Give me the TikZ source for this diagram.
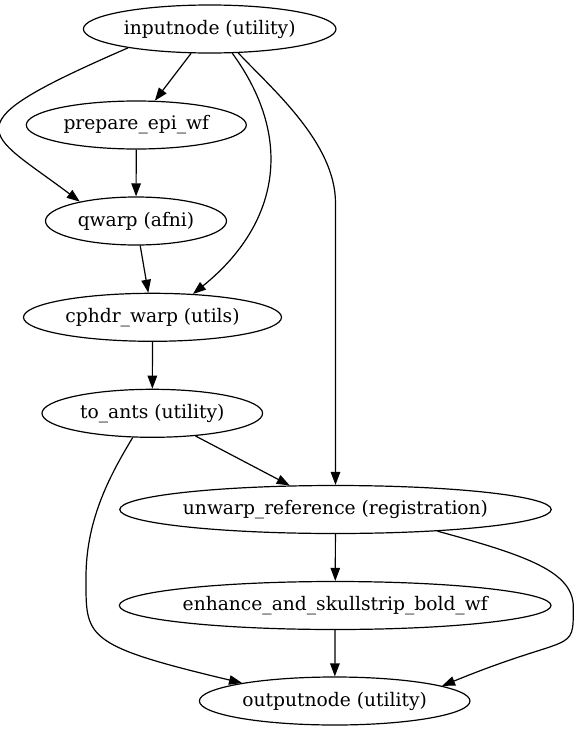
\documentclass[tikz,border=0pt]{standalone}
\usepackage{fontspec}
\setmainfont{DejaVu Serif}
\usetikzlibrary{arrows.meta,shapes.geometric}
\begin{document}
\begin{tikzpicture}[x=1pt,y=-1pt,
  gnode/.style={draw, ellipse, inner sep=0pt, minimum height=48pt, line width=1.2pt,
    font=\fontsize{18.67}{22}\selectfont},
  edge/.style={line width=1.2pt, -{Triangle[length=13pt,width=9.5pt]}}]
\useasboundingbox[fill=white] (0,0) rectangle (579,731);
\node[gnode, minimum width=252.6pt] (in) at (209.7,29) {inputnode (utility)};
\node[gnode, minimum width=220pt] (prep) at (136.3,125) {prepare\_epi\_wf};
\node[gnode, minimum width=181pt] (qwarp) at (136,221) {qwarp (afni)};
\node[gnode, minimum width=258pt] (cphdr) at (152.5,317.3) {cphdr\_warp (utils)};
\node[gnode, minimum width=220.6pt] (toants) at (152.3,413.3) {to\_ants (utility)};
\node[gnode, minimum width=429pt] (unwarp) at (335.5,509.5) {unwarp\_reference (registration)};
\node[gnode, minimum width=431.7pt] (enh) at (335.2,605.5) {enhance\_and\_skullstrip\_bold\_wf};
\node[gnode, minimum width=270.6pt] (out) at (334.7,701) {outputnode (utility)};
\coordinate (ubend) at (unwarp.north |- 0,203);
\draw[edge] (in) -- (prep);
\draw[edge] (prep) -- (qwarp);
\draw[edge] (qwarp) -- (cphdr);
\draw[edge] (cphdr) -- (toants);
\draw[edge] (toants) -- (unwarp);
\draw[edge] (unwarp) -- (enh);
\draw[edge] (enh) -- (out);
\draw[edge] (in.193.65) .. controls (-54,127) and (-15,130) .. (qwarp.161.9);
\draw[edge] (in.313.1) .. controls (297,142) and (276,227) .. (cphdr.30.7);
\draw[edge] (in.320.5) .. controls (272.3,89.2) and (335.5,143) .. (ubend) -- (unwarp.north);
\draw[edge] (toants.231.6) .. controls (112.5,471.3) and (86,517) .. (86,577)
  .. controls (86,637) and (82,645) .. (out.169);
\draw[edge] (unwarp.348.7) .. controls (527.9,555.7) and (573.3,572) .. (573.3,607)
  .. controls (573.3,655) and (574,632) .. (out.8.9);
\end{tikzpicture}
\end{document}
